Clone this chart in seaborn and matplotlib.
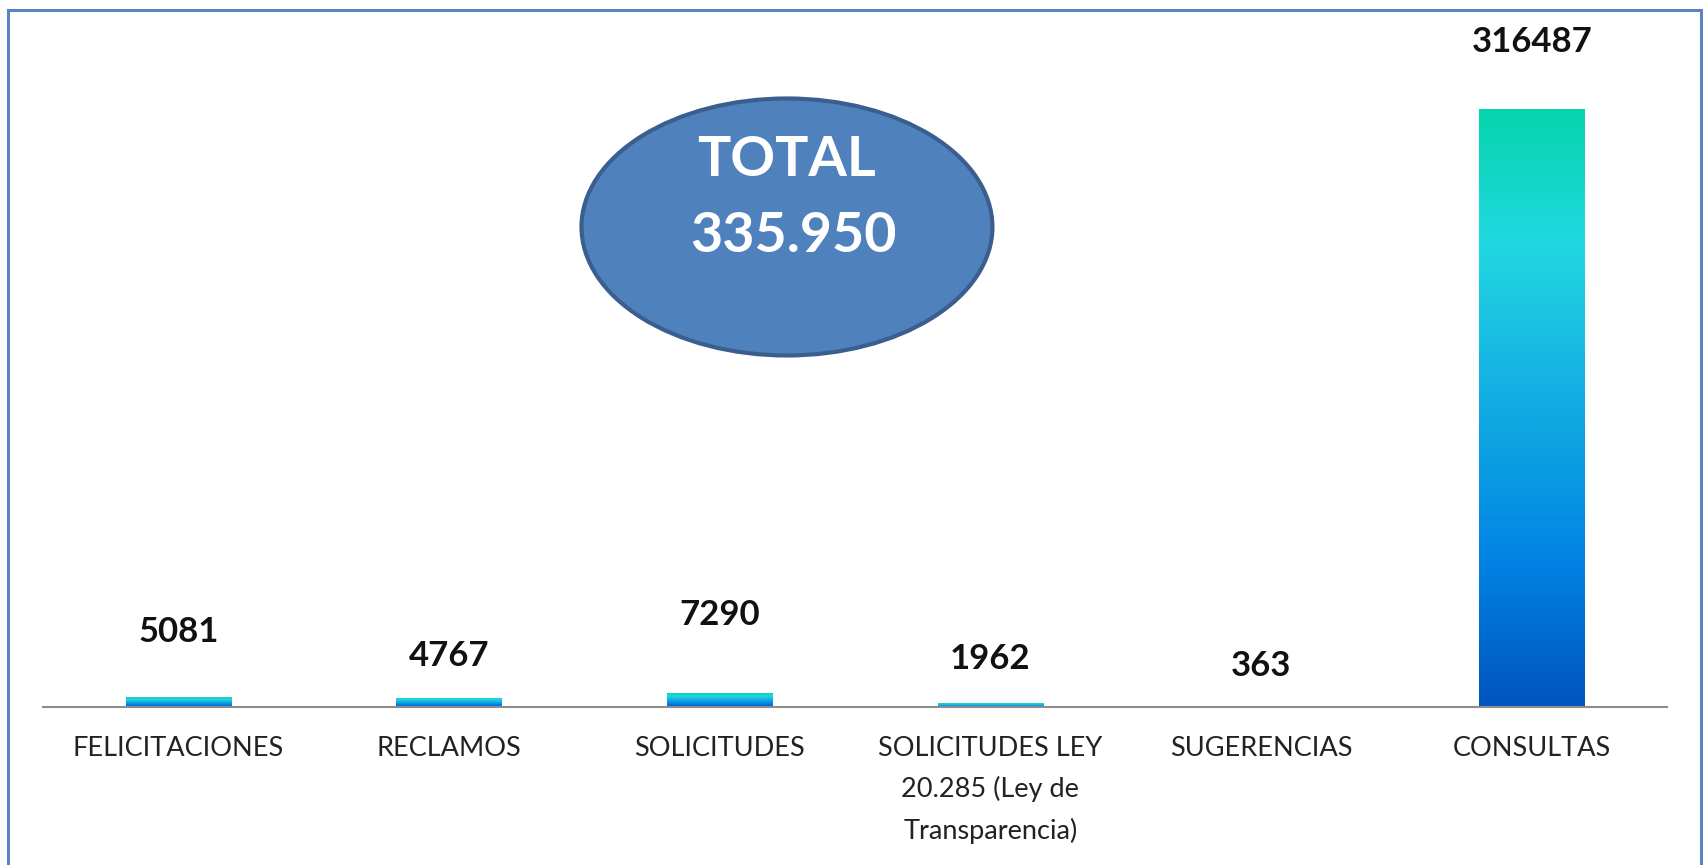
import numpy as np
import pandas as pd
import seaborn as sns
import matplotlib.pyplot as plt
from matplotlib.colors import LinearSegmentedColormap
from matplotlib.patches import Ellipse, Rectangle

# datos del grafico
categorias = ["FELICITACIONES", "RECLAMOS", "SOLICITUDES",
              "SOLICITUDES LEY\n20.285 (Ley de\nTransparencia)",
              "SUGERENCIAS", "CONSULTAS"]
cantidades = [5081, 4767, 7290, 1962, 363, 316487]

# desplazamiento de las etiquetas (pixeles sobre la barra)
label_offset = [65, 42, 78, 44, 40, 67]

sns.set_theme(style="white")
plt.rcParams['font.family'] = ['Lato', 'DejaVu Sans']

df = pd.DataFrame({"categoria": categorias, "cantidad": cantidades})

fig = plt.figure(figsize=(17.03, 8.65), dpi=100)
ax = fig.add_axes([0.0253, 0.1827, 0.9536, 0.7422])
sns.barplot(data=df, x="categoria", y="cantidad", ax=ax, width=0.39,
            color="#0A8CE6", saturation=1)
ax.set_ylim(0, 340000)
ax.set_xlim(-0.5, len(categorias) - 0.5)

# degradado en cada barra
cmap = LinearSegmentedColormap.from_list("grad", [
    (0.0, "#0055BD"), (0.25, "#0284E6"), (0.45, "#0EA3E2"),
    (0.65, "#1BC3E2"), (0.78, "#20D8E0"), (1.0, "#05D5AC")])
grad = np.linspace(0, 1, 256).reshape(-1, 1)
for p in ax.patches:
    x0, y0 = p.get_x(), p.get_y()
    w, h = p.get_width(), p.get_height()
    im = ax.imshow(grad, cmap=cmap, origin="lower", aspect="auto",
                   extent=(x0, x0 + w, y0, y0 + h), zorder=2)
    im.set_clip_path(p)
    p.set_facecolor("none")
    p.set_edgecolor("none")

for i, v in enumerate(cantidades):
    ax.annotate(str(v), (i, v), xytext=(0, label_offset[i]),
                textcoords="offset pixels", ha="center", va="center",
                fontsize=25, fontweight="bold", color="#111111")

ax.set_xlabel("")
ax.set_ylabel("")
ax.set_yticks([])
ax.set_xticks(range(len(categorias)))
ax.set_xticklabels(categorias, fontsize=19.5, color="#222222", linespacing=1.72)
ax.tick_params(axis="x", length=0, pad=21)
for s in ["top", "left", "right"]:
    ax.spines[s].set_visible(False)
ax.spines["bottom"].set_color("#8C8C8C")
ax.spines["bottom"].set_linewidth(1.5)

# ovalo con el total
fig.add_artist(Ellipse((0.4621, 0.7376), 0.2413, 0.2971, transform=fig.transFigure,
                       facecolor="#4F81BD", edgecolor="#3A5F8F", linewidth=3))
fig.text(787 / 1703, 1 - 160 / 865, "TOTAL", ha="center", va="center",
         fontsize=40, fontweight="bold", color="white")
fig.text(793 / 1703, 1 - 236 / 865, "335.950", ha="center", va="center",
         fontsize=40, fontweight="bold", color="white")

# marco
fig.add_artist(Rectangle((8 / 1703, -0.02), 1693 / 1703, 1.02 - 10 / 865,
                         transform=fig.transFigure, fill=False,
                         edgecolor="#5B84C4", linewidth=2.2))

fig.savefig("out.png", dpi=100)
